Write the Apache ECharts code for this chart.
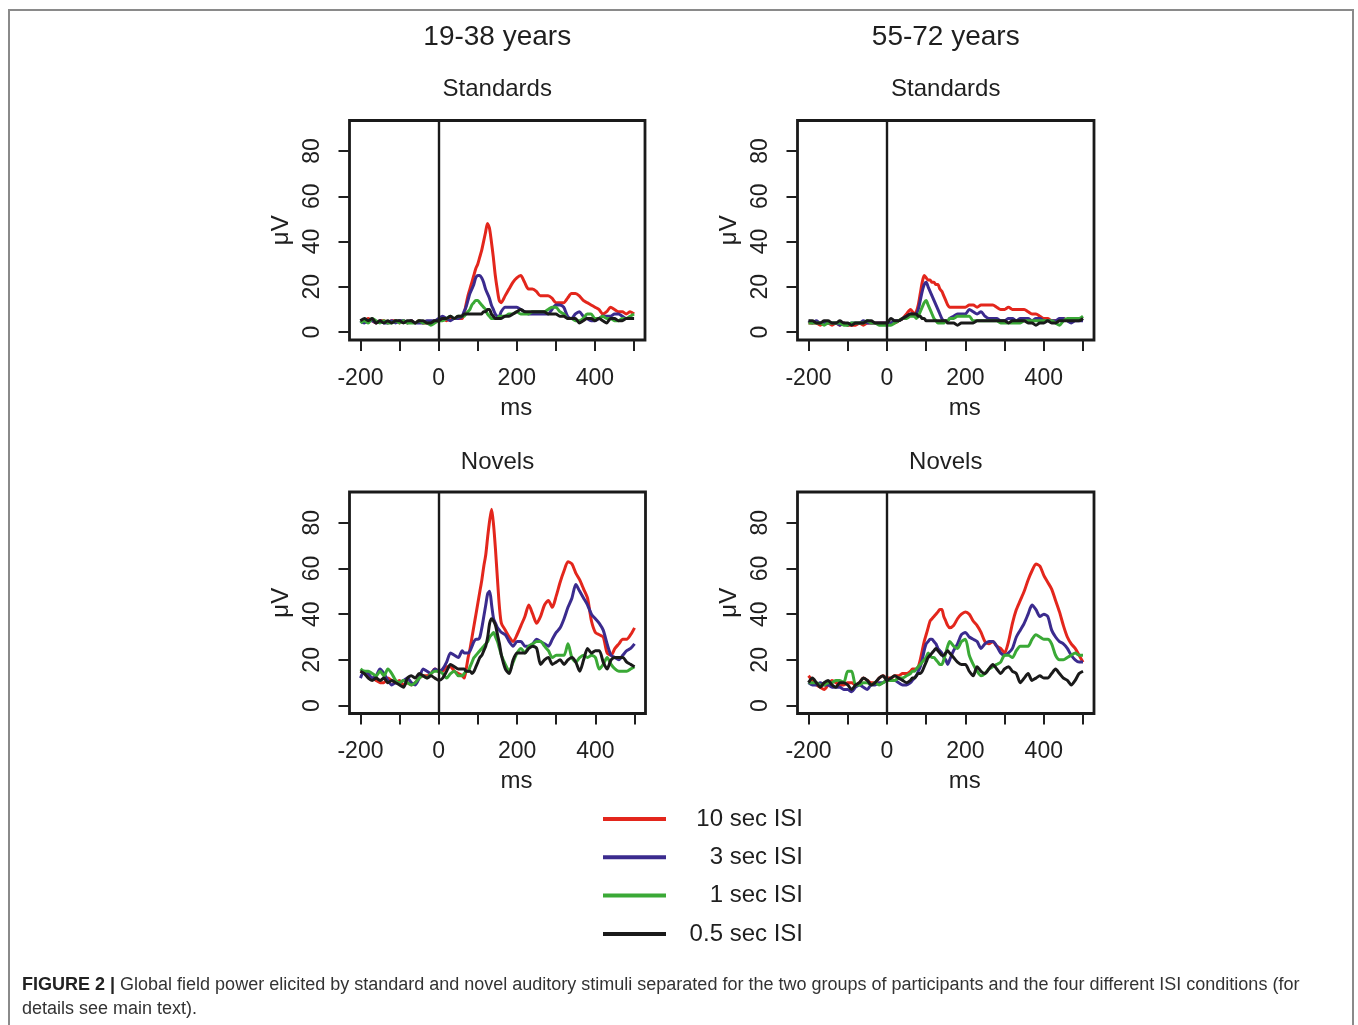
<!DOCTYPE html>
<html>
<head>
<meta charset="utf-8">
<script src="https://cdn.jsdelivr.net/npm/echarts@6/dist/echarts.min.js"></script>
<style>
  html, body { margin: 0; padding: 0; background: #fff; }
  #frame { position: absolute; left: 8px; top: 9px; width: 1346px; height: 1100px; border: 2px solid #8a8a8a; border-bottom: none; box-sizing: border-box; }
  #chart { position: absolute; left: 0; top: 0; width: 1358px; height: 1025px; }
</style>
</head>
<body>
<div id="frame"></div>
<div id="chart"></div>
<script>
// time points (ms)
const times = [-200,-190,-180,-170,-160,-150,-140,-130,-120,-110,-100,-90,-80,-70,-60,-50,-40,-30,-20,-10,
  0,10,20,30,40,50,
  60,65,70,75,80,85,90,95,100,105,110,115,120,125,130,135,140,145,150,155,160,
  170,180,190,200,210,220,230,240,250,260,270,280,290,300,310,320,330,340,350,360,370,380,390,400,410,420,430,440,450,460,470,480,490,500];

const seriesNames = ['10 sec ISI', '3 sec ISI', '1 sec ISI', '0.5 sec ISI'];
const groupTitles = ['19-38 years', '55-72 years'];
const panelTitles = ['Standards', 'Novels'];
const xTickValues = [-200,-100,0,100,200,300,400,500];
const xLabelValues = [-200,0,200,400];
const yTickValues = [0,20,40,60,80];

// 19-38 years, Standards
const tlRed = [5,5,6,5,4,5,5,4,5,5,4,5,4,5,4,5,4,4,4,5,
  5,6,5,6,6,6,
  6,8,12,16,19,22,25,28,30,33,36,40,44,48,46,40,33,25,19,14,13,
  16,19,22,24,25,22,19,19,18,16,16,16,15,13,13,13,15,17,17,16,14,13,12,11,10,8,9,11,10,9,9,8,9,8];
const tlBlue = [5,4,5,5,4,5,4,4,5,4,5,5,4,5,4,4,4,5,5,5,
  6,7,6,5,6,6,
  7,9,11,14,17,19,21,24,25,25,24,22,19,17,15,12,10,8,7,7,9,
  11,11,11,11,10,9,8,8,8,8,8,8,10,12,12,11,7,6,8,9,7,6,5,5,6,7,7,7,8,8,7,6,6,6];
const tlGreen = [4,5,4,6,5,4,5,4,4,5,4,5,4,4,4,5,4,4,3,4,
  5,5,6,7,6,7,
  7,7,8,9,10,12,13,14,14,13,12,11,10,8,7,6,6,6,6,7,7,
  7,8,8,9,8,8,8,9,9,9,9,10,11,11,9,8,6,6,5,5,6,8,8,6,6,7,6,6,5,5,6,6,7,8];
const tlBlack = [5,6,5,6,4,5,4,5,4,5,5,4,5,5,4,5,5,4,4,5,
  5,6,6,7,6,7,
  7,8,8,8,8,8,8,8,8,8,8,9,9,10,10,8,7,6,6,6,6,
  7,7,8,9,10,9,9,9,9,9,9,8,8,8,7,7,6,6,6,4,5,6,6,5,6,5,4,6,6,5,5,6,6,6];

// 55-72 years, Standards
const trRed = [4,4,4,3,4,4,3,4,3,4,3,3,3,4,3,4,4,4,4,4,
  4,4,4,5,6,8,
  10,9,8,9,12,17,22,25,24,23,23,22,22,21,21,19,18,16,14,12,11,
  11,11,11,11,12,12,11,12,12,12,12,11,10,10,11,10,10,10,10,9,8,8,7,6,6,5,5,5,6,5,5,6,6,6];
const trBlue = [5,4,5,4,4,4,4,4,3,4,3,4,4,4,5,4,4,4,4,4,
  4,4,5,5,6,7,
  8,8,7,8,10,14,18,21,22,20,18,16,14,12,10,8,6,5,5,5,6,
  7,8,8,8,10,9,8,9,7,6,6,6,5,5,6,6,5,6,6,6,5,6,6,5,5,5,5,6,6,5,4,5,5,5];
const trGreen = [4,4,4,4,3,4,4,4,4,3,3,4,4,4,4,5,4,4,3,3,
  3,3,4,5,6,6,
  7,7,7,6,7,9,11,13,14,12,10,8,6,5,4,4,4,4,5,5,6,
  6,7,7,7,7,5,5,5,5,5,5,5,4,4,4,4,4,4,5,5,5,5,5,5,5,5,4,3,5,6,6,6,6,7];
const trBlack = [5,5,4,4,5,5,4,4,5,4,4,3,4,4,4,5,5,4,4,4,
  4,6,5,5,6,7,
  8,8,8,8,7,7,6,6,5,5,5,5,5,5,5,5,5,5,5,4,4,
  4,3,4,4,4,4,5,5,5,5,5,5,5,5,4,5,5,5,5,4,4,3,4,4,5,4,4,5,5,5,5,5,5,6];

// 19-38 years, Novels
const blRed = [15,14,13,12,11,10,10,12,11,10,11,9,10,9,10,12,13,13,14,16,
  15,15,17,17,15,14,
  13,12,16,21,25,30,35,40,45,50,55,61,66,74,81,86,79,68,55,43,36,
  33,30,28,31,35,39,44,40,36,39,44,46,43,48,54,59,63,62,58,55,51,47,37,32,31,30,23,22,25,27,29,29,31,34];
const blBlue = [12,15,14,12,13,16,14,11,9,10,10,11,12,10,9,12,16,15,14,16,
  15,16,19,23,22,21,
  24,23,23,23,24,26,28,29,29,30,34,39,44,49,50,44,38,36,34,33,32,
  31,28,26,28,28,26,26,27,29,28,27,26,29,32,34,38,43,47,53,50,47,44,40,38,36,33,27,22,21,20,22,24,25,27];
const blGreen = [16,15,15,14,13,15,13,16,14,11,10,11,10,9,10,12,13,12,14,15,
  15,14,12,14,15,13,
  13,14,15,15,17,19,21,22,23,24,25,26,27,28,30,31,32,30,28,25,22,
  18,15,19,23,25,23,26,27,28,28,26,24,21,22,22,22,27,21,19,21,22,21,22,21,16,18,21,18,16,15,15,15,16,17];
const blBlack = [15,14,12,11,12,11,12,10,11,10,9,8,12,13,12,14,13,12,13,12,
  11,12,15,18,17,16,
  16,16,15,15,15,14,15,17,19,21,22,24,26,30,36,38,37,35,31,27,22,
  16,14,20,23,23,23,25,26,25,18,20,21,18,19,20,18,20,21,19,15,20,25,23,24,24,19,16,20,21,21,21,19,18,17];

// 55-72 years, Novels
const brRed = [13,11,9,8,7,9,11,10,9,9,10,10,9,10,12,11,10,10,12,13,
  12,12,13,13,14,14,
  15,16,16,16,17,20,24,28,31,34,37,38,39,40,41,42,42,39,37,35,34,
  35,38,40,41,40,37,35,32,28,27,28,26,25,23,28,36,42,46,50,55,59,62,61,57,54,51,46,41,35,30,27,25,22,19];
const brBlue = [10,9,9,10,9,9,8,8,8,7,7,6,8,9,8,7,9,9,10,10,
  11,11,11,10,9,9,
  10,11,12,13,15,17,20,24,27,28,29,29,28,27,25,24,23,21,20,18,20,
  24,27,31,32,30,29,28,25,27,28,28,26,23,22,23,25,30,33,36,40,44,42,39,40,39,33,30,28,27,25,22,20,19,19];
const brGreen = [10,10,10,9,9,10,10,11,11,10,15,15,9,9,10,10,9,10,9,10,
  11,11,11,12,12,13,
  14,15,15,16,17,18,19,20,21,23,22,21,21,20,19,18,18,20,23,26,28,
  26,25,28,29,22,18,15,13,14,16,17,18,19,22,22,21,24,26,26,26,29,31,30,29,29,27,22,20,20,21,22,23,22,22];
const brBlack = [10,12,10,8,10,11,9,8,10,10,9,7,9,10,12,11,9,10,12,13,
  11,12,13,12,11,10,
  11,12,12,13,14,14,15,17,19,21,22,23,24,25,24,23,22,22,23,24,23,
  21,19,18,18,15,13,17,15,14,16,18,16,14,16,17,15,14,10,12,14,11,12,13,12,12,14,16,14,12,11,9,11,14,15];

const panelData = [
  [tlRed, tlBlue, tlGreen, tlBlack],
  [trRed, trBlue, trGreen, trBlack],
  [blRed, blBlue, blGreen, blBlack],
  [brRed, brBlue, brGreen, brBlack]
];

const colors = ['#e3261c', '#3b2b8e', '#3aa936', '#1a1a1a'];
const FONT = '"Liberation Sans", Arial, Helvetica, sans-serif';
const INK = '#1f1f1f';

// layout of the four plot boxes
const boxes = [
  {left: 349.5, top: 120.5, width: 295.5, height: 219.5},
  {left: 797.5, top: 120.5, width: 296.5, height: 219.5},
  {left: 349.5, top: 492, width: 296, height: 221.5},
  {left: 797.5, top: 492, width: 296.5, height: 221.5}
];

const grids = boxes.map(b => ({
  left: b.left, top: b.top, width: b.width, height: b.height,
  show: true, borderColor: '#1a1a1a', borderWidth: 2.8, backgroundColor: 'transparent'
}));

const xAxes = boxes.map((b, i) => ({
  type: 'value', gridIndex: i, min: -228, max: 528, position: 'bottom',
  axisLine: {show: false, onZero: false},
  splitLine: {show: false},
  axisTick: {show: true, inside: false, length: 11, customValues: xTickValues, lineStyle: {color: INK, width: 2}},
  axisLabel: {show: true, customValues: xLabelValues, margin: 27, fontSize: 23, color: INK, fontFamily: FONT},
  name: 'ms', nameLocation: 'middle', nameGap: 56,
  nameTextStyle: {fontSize: 24, color: INK, fontFamily: FONT, padding: [0, 0, 0, 38]}
}));

const yAxes = boxes.map((b, i) => ({
  type: 'value', gridIndex: i, min: -3.5, max: 93.5, position: 'left',
  axisLine: {show: false, onZero: false},
  splitLine: {show: false},
  axisTick: {show: true, inside: false, length: 11, customValues: yTickValues, lineStyle: {color: INK, width: 2}},
  axisLabel: {show: true, customValues: yTickValues, rotate: 90, margin: 25, fontSize: 23, color: INK, fontFamily: FONT},
  name: 'μV', nameLocation: 'middle', nameGap: 56, nameRotate: 90,
  nameTextStyle: {fontSize: 24, color: INK, fontFamily: FONT}
}));

const series = [];
panelData.forEach((arrs, p) => {
  arrs.forEach((vals, k) => {
    const s = {
      type: 'line', name: seriesNames[k],
      xAxisIndex: p, yAxisIndex: p,
      data: times.map((t, j) => [t, vals[j]]),
      showSymbol: false, symbol: 'none', smooth: 0.25,
      lineStyle: {color: colors[k], width: 3},
      itemStyle: {color: colors[k]},
      emphasis: {disabled: true},
      z: 2 + k
    };
    if (k === 0) {
      s.markLine = {
        silent: true, symbol: ['none', 'none'], label: {show: false},
        lineStyle: {color: '#1a1a1a', width: 2.4, type: 'solid'},
        emphasis: {disabled: true},
        data: [{xAxis: 0}]
      };
    }
    series.push(s);
  });
});

const centers = boxes.map(b => b.left + b.width / 2);
const graphics = [
  {type: 'text', x: centers[0], y: 37, style: {text: groupTitles[0], font: '28px ' + FONT, fill: INK, textAlign: 'center', textVerticalAlign: 'middle'}},
  {type: 'text', x: centers[1], y: 37, style: {text: groupTitles[1], font: '28px ' + FONT, fill: INK, textAlign: 'center', textVerticalAlign: 'middle'}},
  {type: 'text', x: centers[0], y: 89, style: {text: panelTitles[0], font: '24px ' + FONT, fill: INK, textAlign: 'center', textVerticalAlign: 'middle'}},
  {type: 'text', x: centers[1], y: 89, style: {text: panelTitles[0], font: '24px ' + FONT, fill: INK, textAlign: 'center', textVerticalAlign: 'middle'}},
  {type: 'text', x: centers[2], y: 462, style: {text: panelTitles[1], font: '24px ' + FONT, fill: INK, textAlign: 'center', textVerticalAlign: 'middle'}},
  {type: 'text', x: centers[3], y: 462, style: {text: panelTitles[1], font: '24px ' + FONT, fill: INK, textAlign: 'center', textVerticalAlign: 'middle'}},
  {type: 'text', x: 22, y: 985, style: {
    text: '{b|FIGURE 2 |} Global field power elicited by standard and novel auditory stimuli separated for the two groups of participants and the four different ISI conditions (for',
    fontSize: 18, fontFamily: FONT, fill: '#333', textVerticalAlign: 'middle',
    rich: {b: {fontWeight: 'bold', fontSize: 18, fontFamily: FONT, fill: '#222'}}
  }},
  {type: 'text', x: 22, y: 1009, style: {text: 'details see main text).', fontSize: 18, fontFamily: FONT, fill: '#333', textVerticalAlign: 'middle'}}
];

const chart = echarts.init(document.getElementById('chart'), null, {renderer: 'canvas'});
chart.setOption({
  animation: false,
  backgroundColor: 'transparent',
  grid: grids,
  xAxis: xAxes,
  yAxis: yAxes,
  series: series,
  legend: {
    orient: 'vertical', left: 603, top: 807, padding: 0,
    data: seriesNames,
    icon: 'rect', itemWidth: 63, itemHeight: 4, itemGap: 14.3,
    selectedMode: false,
    formatter: name => '{t|' + name + '}',
    textStyle: {
      rich: {t: {width: 132, align: 'right', fontSize: 24, lineHeight: 24, color: INK, fontFamily: FONT}}
    }
  },
  graphic: graphics
});
</script>
</body>
</html>
